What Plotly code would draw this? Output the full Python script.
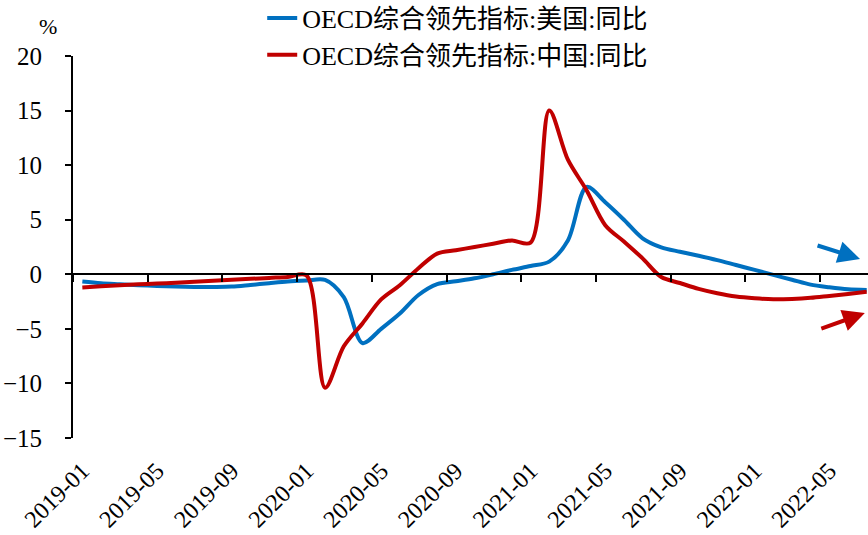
import pandas as pd
import plotly.graph_objects as go

# Monthly categories, 2019-01 .. 2022-07
months = list(pd.date_range("2019-01-01", "2022-07-01", freq="MS").strftime("%Y-%m"))

# OECD composite leading indicator, YoY (%)
us_yoy = [-0.67, -0.82, -0.91, -1.00, -1.07, -1.13, -1.16, -1.16, -1.13, -0.98,
          -0.82, -0.67, -0.58, -0.52, -2.10, -6.30, -5.00, -3.60, -1.90, -0.90,
          -0.64, -0.37, 0.00, 0.40, 0.76, 1.16, 3.10, 8.00, 6.60, 5.00,
          3.30, 2.47, 2.07, 1.70, 1.30, 0.85, 0.40, -0.06, -0.50, -0.95,
          -1.19, -1.37, -1.43]
cn_yoy = [-1.20, -1.10, -1.00, -0.92, -0.85, -0.77, -0.68, -0.60, -0.50, -0.42,
          -0.33, -0.25, -0.10, -10.40, -6.60, -4.50, -2.30, -1.00, 0.55, 1.90,
          2.20, 2.50, 2.80, 3.10, 2.90, 15.00, 10.50, 7.70, 4.50, 3.00,
          1.46, -0.25, -0.80, -1.34, -1.74, -2.04, -2.20, -2.29, -2.26, -2.16,
          -1.98, -1.80, -1.60]

series_names = ["OECD综合领先指标:美国:同比", "OECD综合领先指标:中国:同比"]
series_colors = ["#0070C0", "#C00000"]

y_ticks = [20, 15, 10, 5, 0, -5, -10, -15]
x_tick_labels = ["2019-01", "2019-05", "2019-09", "2020-01", "2020-05", "2020-09",
                 "2021-01", "2021-05", "2021-09", "2022-01", "2022-05"]

Y_MIN, Y_MAX = -15, 20
X_RANGE = [-0.5, 42.07]

SERIF = "Liberation Serif, Noto Sans CJK SC, serif"

fig = go.Figure()

for name, vals, color in zip(series_names, [us_yoy, cn_yoy], series_colors):
    fig.add_trace(go.Scatter(
        x=months, y=vals, name=name, mode="lines",
        line=dict(color=color, width=4, shape="spline", smoothing=0.9),
        xaxis="x", yaxis="y",
    ))

# invisible helper on the zero-crossing axis so it carries the same categories
fig.add_trace(go.Scatter(
    x=months, y=us_yoy, mode="lines", opacity=0, showlegend=False,
    hoverinfo="skip", xaxis="x2", yaxis="y", line=dict(width=0),
))

zero_pos = (0 - Y_MIN) / (Y_MAX - Y_MIN)

fig.update_layout(
    width=868, height=535,
    margin=dict(l=73, r=0, t=56, b=97, autoexpand=False),
    paper_bgcolor="white", plot_bgcolor="white",
    font=dict(family=SERIF, color="black"),
    showlegend=True,
    legend=dict(
        x=0.238, y=1.161, xanchor="left", yanchor="top",
        font=dict(family=SERIF, size=26, color="black"),
        bgcolor="rgba(0,0,0,0)", borderwidth=0, tracegroupgap=0,
    ),
    xaxis=dict(
        type="category", categoryorder="array", categoryarray=months,
        range=X_RANGE, tickmode="array", tickvals=x_tick_labels, ticktext=x_tick_labels,
        tickangle=-45, ticks="", showline=False, showgrid=False, zeroline=False,
        tickfont=dict(family=SERIF, size=24, color="black"),
        ticklabelstandoff=13, ticklabelshift=0, automargin=False,
    ),
    xaxis2=dict(
        type="category", categoryorder="array", categoryarray=months,
        range=X_RANGE, overlaying="x", anchor="free", position=zero_pos,
        tickmode="linear", tick0=0, dtick=4, tickson="boundaries",
        ticks="outside", ticklen=7, tickwidth=2, tickcolor="black",
        showticklabels=False, showline=True, linewidth=2, linecolor="black",
        showgrid=False, zeroline=False, automargin=False,
    ),
    yaxis=dict(
        range=[Y_MIN, Y_MAX], tickmode="array", tickvals=y_ticks,
        ticks="outside", ticklen=6, tickwidth=2, tickcolor="black",
        showline=True, linewidth=2, linecolor="black",
        showgrid=False, zeroline=False,
        tickfont=dict(family=SERIF, size=25, color="black"),
        ticklabelstandoff=18, automargin=False,
    ),
    annotations=[
        dict(text="%", xref="paper", yref="paper", x=-0.031, y=1.076,
             xanchor="center", yanchor="middle",
             showarrow=False, font=dict(family=SERIF, size=22, color="black")),
        dict(text="", xref="paper", yref="paper", x=0.99, y=0.4686,
             ax=-44, ay=-14, showarrow=True, arrowhead=2, arrowsize=1.1,
             arrowwidth=4, arrowcolor="#0070C0"),
        dict(text="", xref="paper", yref="paper", x=0.996, y=0.327,
             ax=-45, ay=16, showarrow=True, arrowhead=2, arrowsize=1.1,
             arrowwidth=4, arrowcolor="#C00000"),
    ],
)

fig.write_html("out.html")
